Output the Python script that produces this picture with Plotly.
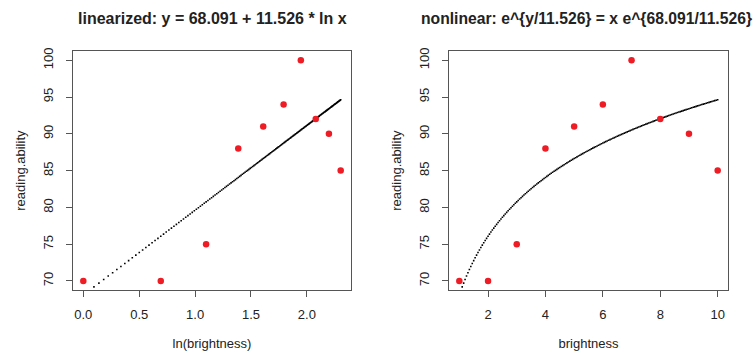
import numpy as np
import plotly.graph_objects as go

# Data
brightness = [1, 2, 3, 4, 5, 6, 7, 8, 9, 10]
reading_ability = [70, 70, 75, 88, 91, 94, 100, 92, 90, 85]
intercept = 68.091
slope = 11.526
curve_start, curve_end, curve_step = 1.1, 10.0, 0.05

x_ticks_left = [0.0, 0.5, 1.0, 1.5, 2.0]
x_ticklabels_left = ["0.0", "0.5", "1.0", "1.5", "2.0"]
x_ticks_right = [2, 4, 6, 8, 10]
y_ticks = [70, 75, 80, 85, 90, 95, 100]

title_left = "linearized: y = 68.091 + 11.526 * ln x"
title_right = "nonlinear: e^{y/11.526} = x e^{68.091/11.526}"

# fitted model curve from the stated coefficients
xc = np.arange(curve_start, curve_end + 1e-9, curve_step)
yc = intercept + slope * np.log(xc)
ln_b = np.log(np.array(brightness, dtype=float))

W, H = 754, 354
L1, R1 = 73, 351
L2, R2 = 449, 728
T, B = 48, 289

RED = "#ee1c25"
AX = "#555555"
TXT = "#222222"
FONT = "Liberation Sans, Arial, sans-serif"

fig = go.Figure()
fig.add_trace(go.Scatter(x=np.log(xc), y=yc, mode="markers",
                         marker=dict(symbol="square", size=1.6, color="black", line=dict(width=0)),
                         xaxis="x", yaxis="y", showlegend=False))
fig.add_trace(go.Scatter(x=ln_b, y=reading_ability, mode="markers",
                         marker=dict(size=6.5, color=RED, line=dict(width=0)),
                         xaxis="x", yaxis="y", showlegend=False))
fig.add_trace(go.Scatter(x=xc, y=yc, mode="markers",
                         marker=dict(symbol="square", size=1.6, color="black", line=dict(width=0)),
                         xaxis="x2", yaxis="y2", showlegend=False))
fig.add_trace(go.Scatter(x=brightness, y=reading_ability, mode="markers",
                         marker=dict(size=6.5, color=RED, line=dict(width=0)),
                         xaxis="x2", yaxis="y2", showlegend=False))

def xr(lo, hi):
    d = (hi - lo) * 0.04
    return [lo - d, hi + d]

common_ax = dict(showgrid=False, zeroline=False, showline=True, mirror=True,
                 linecolor=AX, linewidth=1, ticks="outside", ticklen=6,
                 tickcolor=AX, tickwidth=1,
                 tickfont=dict(family=FONT, size=13, color=TXT))

yr = xr(70, 100)
tfont = dict(family=FONT, size=13, color=TXT)

fig.update_layout(
    width=W, height=H, margin=dict(l=0, r=0, t=0, b=0),
    paper_bgcolor="white", plot_bgcolor="white",
    xaxis=dict(domain=[L1 / W, R1 / W], range=xr(0, float(np.log(10))),
               tickvals=x_ticks_left, ticktext=x_ticklabels_left, ticklabelstandoff=7,
               title=dict(text="ln(brightness)", font=tfont, standoff=17),
               anchor="y", **common_ax),
    yaxis=dict(domain=[1 - B / H, 1 - T / H], range=yr, tickvals=y_ticks,
               tickangle=-90, ticklabelstandoff=8,
               title=dict(text="reading.ability", font=tfont, standoff=12),
               anchor="x", **common_ax),
    xaxis2=dict(domain=[L2 / W, R2 / W], range=xr(1, 10), tickvals=x_ticks_right,
                ticklabelstandoff=7,
                title=dict(text="brightness", font=tfont, standoff=17),
                anchor="y2", **common_ax),
    yaxis2=dict(domain=[1 - B / H, 1 - T / H], range=yr, tickvals=y_ticks,
                tickangle=-90, ticklabelstandoff=8,
                title=dict(text="reading.ability", font=tfont, standoff=12),
                anchor="x2", **common_ax),
    annotations=[
        dict(text="<b>" + title_left + "</b>", x=(L1 + R1) / 2 / W, y=1 - 15 / H,
             xref="paper", yref="paper", showarrow=False, xanchor="center", yanchor="middle",
             font=dict(family=FONT, size=16, color=TXT)),
        dict(text="<b>" + title_right + "</b>", x=(L2 + R2 - 4) / 2 / W, y=1 - 15 / H,
             xref="paper", yref="paper", showarrow=False, xanchor="center", yanchor="middle",
             font=dict(family=FONT, size=15.7, color=TXT)),
    ],
)

fig.write_html("out.html", config={"displayModeBar": False},
               post_script="document.body.style.margin='0';document.body.style.overflow='hidden';")
